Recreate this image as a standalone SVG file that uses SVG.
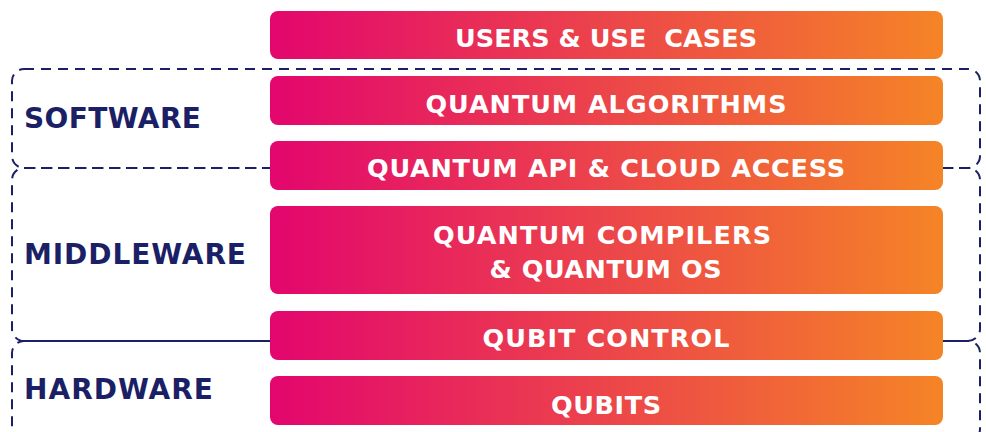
<svg xmlns="http://www.w3.org/2000/svg" width="986" height="432" viewBox="0 0 986 432">
  <defs>
    <linearGradient id="barGrad" gradientUnits="userSpaceOnUse" x1="270" y1="0" x2="943" y2="0">
      <stop offset="0" stop-color="#e3066e"/>
      <stop offset="1" stop-color="#f58426"/>
    </linearGradient>
    <style>
      .group { fill: none; stroke: #1b1f66; stroke-width: 2; stroke-dasharray: 10 7; }
      .bar { fill: url(#barGrad); }
      .barText { font-family: "DejaVu Sans", "Liberation Sans", sans-serif; font-weight: 700; font-size: 25.5px; fill: #ffffff; text-anchor: middle; }
      .groupLabel { font-family: "DejaVu Sans", "Liberation Sans", sans-serif; font-weight: 700; font-size: 28px; fill: #1b1f66; }
    </style>
  </defs>
  <rect width="986" height="432" fill="#ffffff"/>

  <g id="connectors">
    <rect id="software-frame" class="group" x="12" y="69" width="968" height="99" rx="12"/>
    <rect id="middleware-frame" class="group" x="12" y="168" width="968" height="173" rx="12"/>
    <rect id="hardware-frame" class="group" x="12" y="341" width="968" height="100" rx="12"/>
  </g>

  <g id="label-software">
    <text class="groupLabel" x="24" y="128" textLength="177">SOFTWARE</text>
  </g>
  <g id="label-middleware">
    <text class="groupLabel" x="24" y="264" textLength="222">MIDDLEWARE</text>
  </g>
  <g id="label-hardware">
    <text class="groupLabel" x="24" y="399" textLength="189">HARDWARE</text>
  </g>

  <g id="users-use-cases">
    <rect class="bar" x="270" y="11" width="673" height="48" rx="8"/>
    <text class="barText" x="606" y="47" textLength="302" xml:space="preserve">USERS &amp; USE  CASES</text>
  </g>
  <g id="quantum-algorithms">
    <rect class="bar" x="270" y="76" width="673" height="49" rx="8"/>
    <text class="barText" x="606" y="113" textLength="361">QUANTUM ALGORITHMS</text>
  </g>
  <g id="quantum-api">
    <rect class="bar" x="270" y="141" width="673" height="49" rx="8"/>
    <text class="barText" x="606" y="177" textLength="478">QUANTUM API &amp; CLOUD ACCESS</text>
  </g>
  <g id="quantum-compilers">
    <rect class="bar" x="270" y="206" width="673" height="88" rx="8"/>
    <text class="barText" x="602" y="244" textLength="338">QUANTUM COMPILERS</text>
    <text class="barText" x="605.5" y="278" textLength="232">&amp; QUANTUM OS</text>
  </g>
  <g id="qubit-control">
    <rect class="bar" x="270" y="311" width="673" height="49" rx="8"/>
    <text class="barText" x="606" y="347" textLength="247">QUBIT CONTROL</text>
  </g>
  <g id="qubits">
    <rect class="bar" x="270" y="376" width="673" height="49" rx="8"/>
    <text class="barText" x="606" y="414" textLength="110">QUBITS</text>
  </g>
</svg>
